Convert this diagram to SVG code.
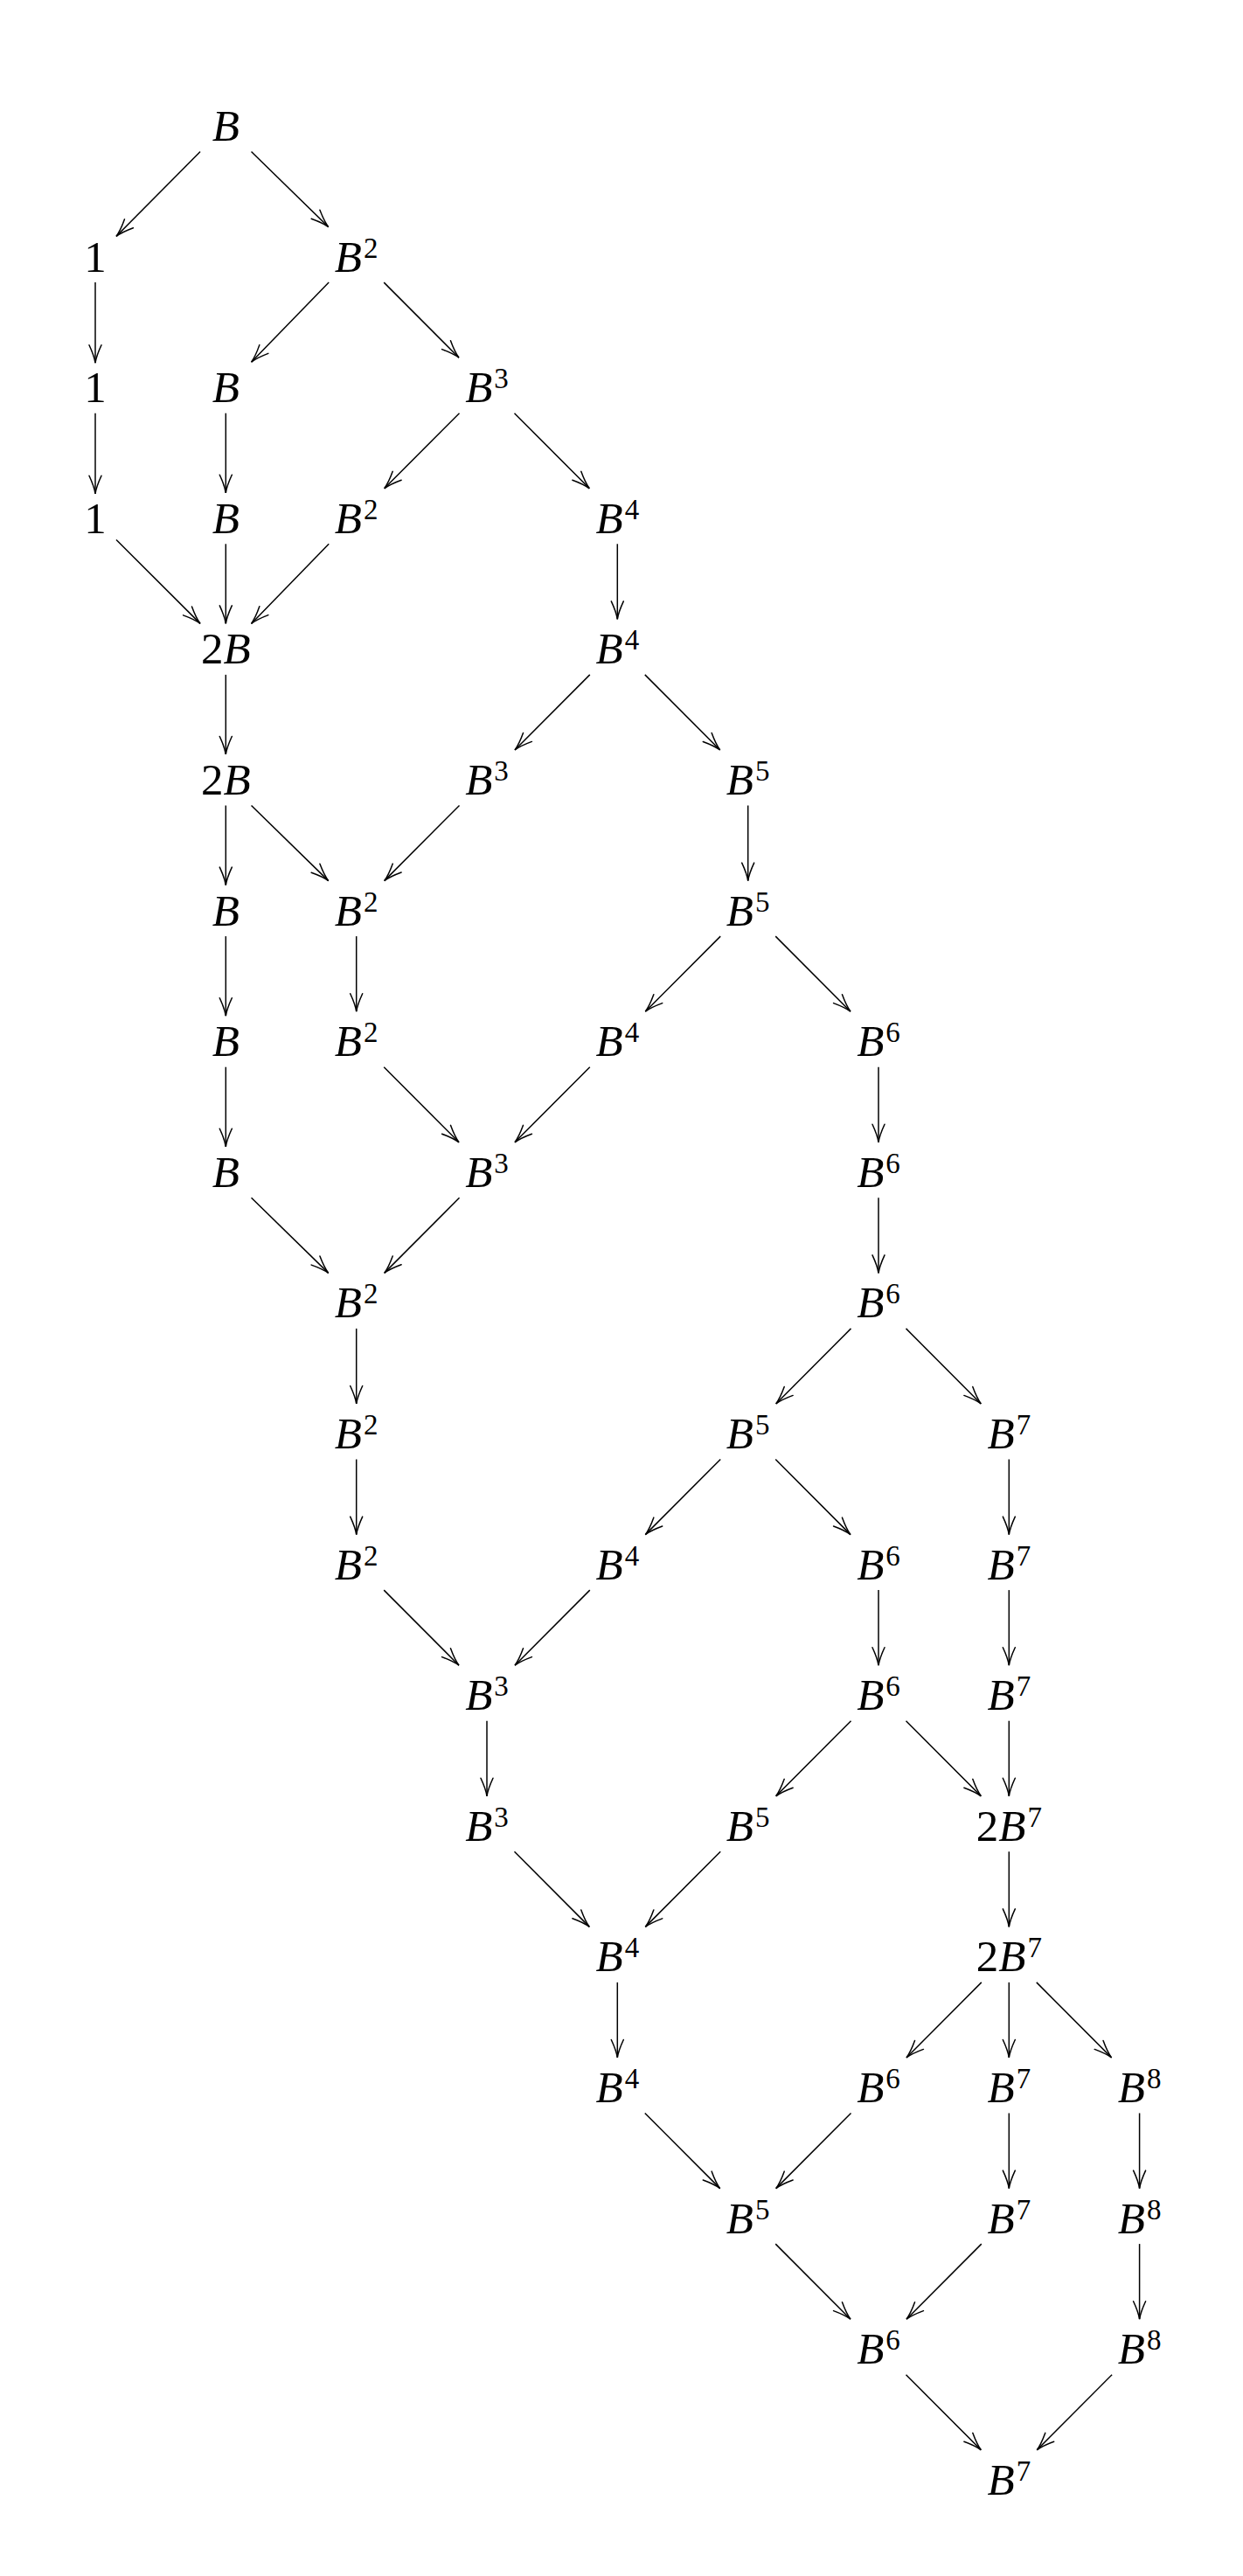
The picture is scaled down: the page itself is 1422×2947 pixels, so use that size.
<svg xmlns="http://www.w3.org/2000/svg" width="1422" height="2947" viewBox="0 0 1422 2947">
<style>
text{font-family:"Liberation Serif","Times New Roman",serif;font-size:51px;fill:#000;text-anchor:middle}
.i{font-style:italic}
.s{font-size:33px;font-style:normal}
.e line{stroke:#000;stroke-width:1.5;fill:none;marker-end:url(#ah)}
</style>
<defs>
<marker id="ah" markerUnits="userSpaceOnUse" orient="auto" markerWidth="30" markerHeight="20" viewBox="-25 -10 30 20" refX="0" refY="0" overflow="visible">
<path d="M-20.5,-7 Q-8,-1.2 0,0 Q-8,1.2 -20.5,7" fill="none" stroke="#000" stroke-width="1.5" stroke-linecap="round"/>
</marker>
</defs>
<rect width="1422" height="2947" fill="#fff"/>
<g id="connectors" class="e">
<line x1="229.05" y1="173.5" x2="133" y2="270.35"/>
<line x1="287.55" y1="173.5" x2="375.7" y2="259.6"/>
<line x1="109" y1="323.1" x2="109" y2="415.2"/>
<line x1="376.2" y1="323.1" x2="287.55" y2="414.2"/>
<line x1="439.2" y1="323.1" x2="525" y2="409.2"/>
<line x1="109" y1="472.7" x2="109" y2="564.8"/>
<line x1="258.3" y1="472.7" x2="258.3" y2="563.8"/>
<line x1="525.5" y1="472.7" x2="439.7" y2="558.8"/>
<line x1="588.5" y1="472.7" x2="674.3" y2="558.8"/>
<line x1="133" y1="617.55" x2="229.05" y2="713.4"/>
<line x1="258.3" y1="622.3" x2="258.3" y2="713.4"/>
<line x1="376.2" y1="622.3" x2="287.55" y2="713.4"/>
<line x1="706.3" y1="622.3" x2="706.3" y2="708.4"/>
<line x1="258.3" y1="771.9" x2="258.3" y2="863"/>
<line x1="674.8" y1="771.9" x2="589" y2="858"/>
<line x1="737.8" y1="771.9" x2="823.7" y2="858"/>
<line x1="258.3" y1="921.5" x2="258.3" y2="1012.6"/>
<line x1="287.55" y1="921.5" x2="375.7" y2="1007.6"/>
<line x1="525.5" y1="921.5" x2="439.7" y2="1007.6"/>
<line x1="855.7" y1="921.5" x2="855.7" y2="1007.6"/>
<line x1="258.3" y1="1071.1" x2="258.3" y2="1162.2"/>
<line x1="407.7" y1="1071.1" x2="407.7" y2="1157.2"/>
<line x1="824.2" y1="1071.1" x2="738.3" y2="1157.2"/>
<line x1="887.2" y1="1071.1" x2="973" y2="1157.2"/>
<line x1="258.3" y1="1220.7" x2="258.3" y2="1311.8"/>
<line x1="439.2" y1="1220.7" x2="525" y2="1306.8"/>
<line x1="674.8" y1="1220.7" x2="589" y2="1306.8"/>
<line x1="1005" y1="1220.7" x2="1005" y2="1306.8"/>
<line x1="287.55" y1="1370.3" x2="375.7" y2="1456.4"/>
<line x1="525.5" y1="1370.3" x2="439.7" y2="1456.4"/>
<line x1="1005" y1="1370.3" x2="1005" y2="1456.4"/>
<line x1="407.7" y1="1519.9" x2="407.7" y2="1606"/>
<line x1="973.5" y1="1519.9" x2="887.7" y2="1606"/>
<line x1="1036.5" y1="1519.9" x2="1122.3" y2="1606"/>
<line x1="407.7" y1="1669.5" x2="407.7" y2="1755.6"/>
<line x1="824.2" y1="1669.5" x2="738.3" y2="1755.6"/>
<line x1="887.2" y1="1669.5" x2="973" y2="1755.6"/>
<line x1="1154.3" y1="1669.5" x2="1154.3" y2="1755.6"/>
<line x1="439.2" y1="1819.1" x2="525" y2="1905.2"/>
<line x1="674.8" y1="1819.1" x2="589" y2="1905.2"/>
<line x1="1005" y1="1819.1" x2="1005" y2="1905.2"/>
<line x1="1154.3" y1="1819.1" x2="1154.3" y2="1905.2"/>
<line x1="557" y1="1968.7" x2="557" y2="2054.8"/>
<line x1="973.5" y1="1968.7" x2="887.7" y2="2054.8"/>
<line x1="1036.5" y1="1968.7" x2="1122.3" y2="2054.8"/>
<line x1="1154.3" y1="1968.7" x2="1154.3" y2="2054.8"/>
<line x1="588.5" y1="2118.3" x2="674.3" y2="2204.4"/>
<line x1="824.2" y1="2118.3" x2="738.3" y2="2204.4"/>
<line x1="1154.3" y1="2118.3" x2="1154.3" y2="2204.4"/>
<line x1="706.3" y1="2267.9" x2="706.3" y2="2354"/>
<line x1="1122.8" y1="2267.9" x2="1037" y2="2354"/>
<line x1="1154.3" y1="2267.9" x2="1154.3" y2="2354"/>
<line x1="1185.8" y1="2267.9" x2="1271.6" y2="2354"/>
<line x1="737.8" y1="2417.5" x2="823.7" y2="2503.6"/>
<line x1="973.5" y1="2417.5" x2="887.7" y2="2503.6"/>
<line x1="1154.3" y1="2417.5" x2="1154.3" y2="2503.6"/>
<line x1="1303.6" y1="2417.5" x2="1303.6" y2="2503.6"/>
<line x1="887.2" y1="2567.1" x2="973" y2="2653.2"/>
<line x1="1122.8" y1="2567.1" x2="1037" y2="2653.2"/>
<line x1="1303.6" y1="2567.1" x2="1303.6" y2="2653.2"/>
<line x1="1036.5" y1="2716.7" x2="1122.3" y2="2802.8"/>
<line x1="1272.1" y1="2716.7" x2="1186.3" y2="2802.8"/>
</g>
<g id="n0-1"><text x="258.3" y="161"><tspan class="i">B</tspan></text></g>
<g id="n1-0"><text x="109" y="310.6">1</text></g>
<g id="n1-2"><text x="407.7" y="310.6"><tspan class="i">B</tspan><tspan class="s" dx="2" dy="-16">2</tspan></text></g>
<g id="n2-0"><text x="109" y="460.2">1</text></g>
<g id="n2-1"><text x="258.3" y="460.2"><tspan class="i">B</tspan></text></g>
<g id="n2-3"><text x="557" y="460.2"><tspan class="i">B</tspan><tspan class="s" dx="2" dy="-16">3</tspan></text></g>
<g id="n3-0"><text x="109" y="609.8">1</text></g>
<g id="n3-1"><text x="258.3" y="609.8"><tspan class="i">B</tspan></text></g>
<g id="n3-2"><text x="407.7" y="609.8"><tspan class="i">B</tspan><tspan class="s" dx="2" dy="-16">2</tspan></text></g>
<g id="n3-4"><text x="706.3" y="609.8"><tspan class="i">B</tspan><tspan class="s" dx="2" dy="-16">4</tspan></text></g>
<g id="n4-1"><text x="258.3" y="759.4">2<tspan class="i">B</tspan></text></g>
<g id="n4-4"><text x="706.3" y="759.4"><tspan class="i">B</tspan><tspan class="s" dx="2" dy="-16">4</tspan></text></g>
<g id="n5-1"><text x="258.3" y="909">2<tspan class="i">B</tspan></text></g>
<g id="n5-3"><text x="557" y="909"><tspan class="i">B</tspan><tspan class="s" dx="2" dy="-16">3</tspan></text></g>
<g id="n5-5"><text x="855.7" y="909"><tspan class="i">B</tspan><tspan class="s" dx="2" dy="-16">5</tspan></text></g>
<g id="n6-1"><text x="258.3" y="1058.6"><tspan class="i">B</tspan></text></g>
<g id="n6-2"><text x="407.7" y="1058.6"><tspan class="i">B</tspan><tspan class="s" dx="2" dy="-16">2</tspan></text></g>
<g id="n6-5"><text x="855.7" y="1058.6"><tspan class="i">B</tspan><tspan class="s" dx="2" dy="-16">5</tspan></text></g>
<g id="n7-1"><text x="258.3" y="1208.2"><tspan class="i">B</tspan></text></g>
<g id="n7-2"><text x="407.7" y="1208.2"><tspan class="i">B</tspan><tspan class="s" dx="2" dy="-16">2</tspan></text></g>
<g id="n7-4"><text x="706.3" y="1208.2"><tspan class="i">B</tspan><tspan class="s" dx="2" dy="-16">4</tspan></text></g>
<g id="n7-6"><text x="1005" y="1208.2"><tspan class="i">B</tspan><tspan class="s" dx="2" dy="-16">6</tspan></text></g>
<g id="n8-1"><text x="258.3" y="1357.8"><tspan class="i">B</tspan></text></g>
<g id="n8-3"><text x="557" y="1357.8"><tspan class="i">B</tspan><tspan class="s" dx="2" dy="-16">3</tspan></text></g>
<g id="n8-6"><text x="1005" y="1357.8"><tspan class="i">B</tspan><tspan class="s" dx="2" dy="-16">6</tspan></text></g>
<g id="n9-2"><text x="407.7" y="1507.4"><tspan class="i">B</tspan><tspan class="s" dx="2" dy="-16">2</tspan></text></g>
<g id="n9-6"><text x="1005" y="1507.4"><tspan class="i">B</tspan><tspan class="s" dx="2" dy="-16">6</tspan></text></g>
<g id="n10-2"><text x="407.7" y="1657"><tspan class="i">B</tspan><tspan class="s" dx="2" dy="-16">2</tspan></text></g>
<g id="n10-5"><text x="855.7" y="1657"><tspan class="i">B</tspan><tspan class="s" dx="2" dy="-16">5</tspan></text></g>
<g id="n10-7"><text x="1154.3" y="1657"><tspan class="i">B</tspan><tspan class="s" dx="2" dy="-16">7</tspan></text></g>
<g id="n11-2"><text x="407.7" y="1806.6"><tspan class="i">B</tspan><tspan class="s" dx="2" dy="-16">2</tspan></text></g>
<g id="n11-4"><text x="706.3" y="1806.6"><tspan class="i">B</tspan><tspan class="s" dx="2" dy="-16">4</tspan></text></g>
<g id="n11-6"><text x="1005" y="1806.6"><tspan class="i">B</tspan><tspan class="s" dx="2" dy="-16">6</tspan></text></g>
<g id="n11-7"><text x="1154.3" y="1806.6"><tspan class="i">B</tspan><tspan class="s" dx="2" dy="-16">7</tspan></text></g>
<g id="n12-3"><text x="557" y="1956.2"><tspan class="i">B</tspan><tspan class="s" dx="2" dy="-16">3</tspan></text></g>
<g id="n12-6"><text x="1005" y="1956.2"><tspan class="i">B</tspan><tspan class="s" dx="2" dy="-16">6</tspan></text></g>
<g id="n12-7"><text x="1154.3" y="1956.2"><tspan class="i">B</tspan><tspan class="s" dx="2" dy="-16">7</tspan></text></g>
<g id="n13-3"><text x="557" y="2105.8"><tspan class="i">B</tspan><tspan class="s" dx="2" dy="-16">3</tspan></text></g>
<g id="n13-5"><text x="855.7" y="2105.8"><tspan class="i">B</tspan><tspan class="s" dx="2" dy="-16">5</tspan></text></g>
<g id="n13-7"><text x="1154.3" y="2105.8">2<tspan class="i">B</tspan><tspan class="s" dx="2" dy="-16">7</tspan></text></g>
<g id="n14-4"><text x="706.3" y="2255.4"><tspan class="i">B</tspan><tspan class="s" dx="2" dy="-16">4</tspan></text></g>
<g id="n14-7"><text x="1154.3" y="2255.4">2<tspan class="i">B</tspan><tspan class="s" dx="2" dy="-16">7</tspan></text></g>
<g id="n15-4"><text x="706.3" y="2405"><tspan class="i">B</tspan><tspan class="s" dx="2" dy="-16">4</tspan></text></g>
<g id="n15-6"><text x="1005" y="2405"><tspan class="i">B</tspan><tspan class="s" dx="2" dy="-16">6</tspan></text></g>
<g id="n15-7"><text x="1154.3" y="2405"><tspan class="i">B</tspan><tspan class="s" dx="2" dy="-16">7</tspan></text></g>
<g id="n15-8"><text x="1303.6" y="2405"><tspan class="i">B</tspan><tspan class="s" dx="2" dy="-16">8</tspan></text></g>
<g id="n16-5"><text x="855.7" y="2554.6"><tspan class="i">B</tspan><tspan class="s" dx="2" dy="-16">5</tspan></text></g>
<g id="n16-7"><text x="1154.3" y="2554.6"><tspan class="i">B</tspan><tspan class="s" dx="2" dy="-16">7</tspan></text></g>
<g id="n16-8"><text x="1303.6" y="2554.6"><tspan class="i">B</tspan><tspan class="s" dx="2" dy="-16">8</tspan></text></g>
<g id="n17-6"><text x="1005" y="2704.2"><tspan class="i">B</tspan><tspan class="s" dx="2" dy="-16">6</tspan></text></g>
<g id="n17-8"><text x="1303.6" y="2704.2"><tspan class="i">B</tspan><tspan class="s" dx="2" dy="-16">8</tspan></text></g>
<g id="n18-7"><text x="1154.3" y="2853.8"><tspan class="i">B</tspan><tspan class="s" dx="2" dy="-16">7</tspan></text></g>
</svg>
